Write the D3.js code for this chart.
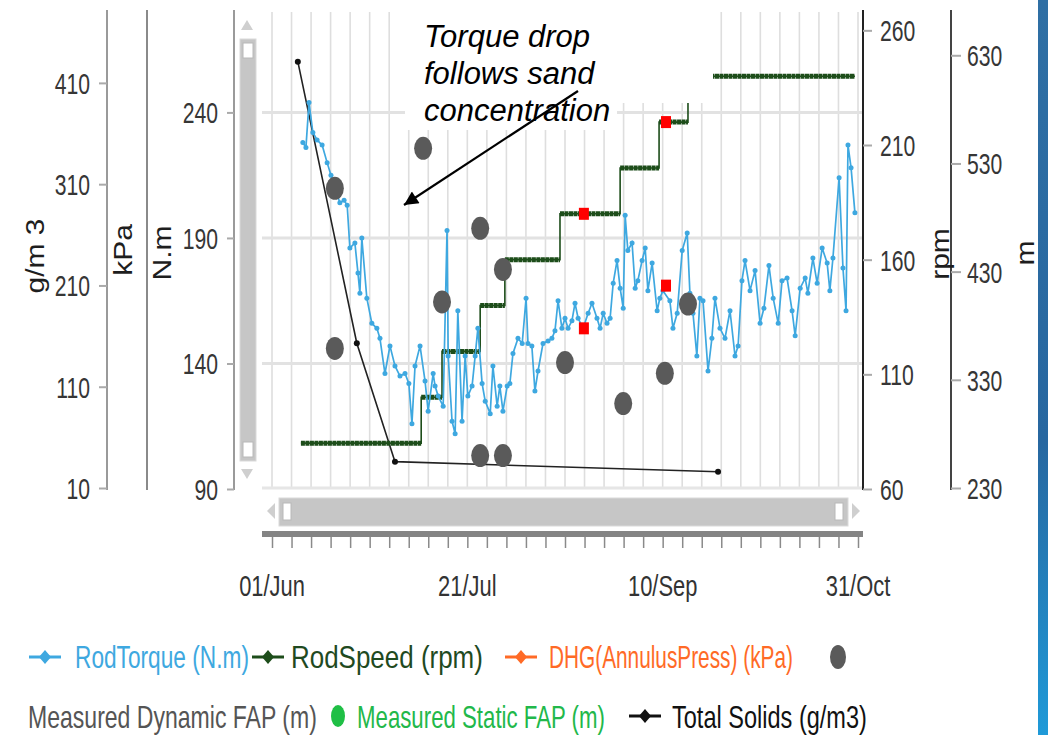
<!DOCTYPE html>
<html>
<head>
<meta charset="utf-8">
<script src="https://cdn.jsdelivr.net/npm/d3@7"></script>
<style>
  body { margin: 0; background: #fff; }
  svg { display: block; }
  text { font-family: "Liberation Sans", Arial, sans-serif; }
</style>
</head>
<body>
<svg id="chart" width="1048" height="735"></svg>
<script>
// ---- data (days counted from 01/Jun) ----
const startDate = new Date(2019, 5, 1);
const endDate = new Date(2019, 9, 31);

const torqueDay = [8.0, 8.8, 9.6, 10.6, 11.7, 13.0, 14.3, 15.3, 16.3, 17.6,
  18.7, 19.5, 20.2, 21.5, 22.3, 22.8, 23.3, 24.6, 25.9, 27.2,
  28.0, 29.3, 30.6, 31.9, 33.2, 34.5, 35.5, 36.3, 37.1, 38.4,
  39.7, 40.5, 41.8, 42.3, 43.1, 44.4, 45.4, 45.7, 46.7, 47.5,
  48.2, 49.3, 50.1, 50.8, 51.9, 52.7, 53.4, 54.5, 55.3, 56.6,
  57.3, 58.4, 59.1, 59.9, 61.0, 61.7, 62.5, 63.8, 64.9, 65.9,
  66.4, 67.4, 68.2, 69.0, 70.3, 71.6, 72.6, 73.4, 74.2, 75.2,
  76.0, 76.8, 77.8, 78.6, 79.4, 80.7, 82.0, 83.0, 84.3, 85.1,
  85.9, 86.9, 87.7, 88.5, 89.5, 90.3, 91.1, 91.6, 92.3, 93.4,
  94.2, 94.9, 96.0, 96.8, 97.5, 98.6, 99.9, 100.6, 101.4, 103.2,
  104.0, 105.1, 106.4, 107.7, 108.4, 109.2, 110.2, 111.0, 111.8, 113.1,
  114.1, 114.9, 116.2, 117.5, 118.8, 120.1, 120.9, 121.9, 122.7, 124.0,
  125.3, 126.6, 127.6, 128.9, 130.0, 131.3, 132.3, 133.6, 134.9, 135.7,
  137.0, 138.3, 139.0, 140.3, 141.4, 142.7, 144.0, 144.7, 145.5, 147.1,
  148.1, 148.9, 149.4, 150.2, 151.2];
const torqueNm = [228, 226, 244, 232, 229, 227, 220, 215, 210, 204,
  205, 203, 186, 188, 176, 168, 190, 166, 156, 154,
  150, 136, 147, 139, 135, 136, 132, 116, 139, 147,
  133, 121, 136, 131, 127, 123, 193, 143, 117, 112,
  161, 117, 143, 127, 131, 143, 154, 132, 125, 120,
  139, 123, 131, 121, 131, 132, 144, 150, 148, 166,
  148, 147, 129, 137, 148, 149, 150, 153, 165, 154,
  158, 154, 157, 164, 158, 154, 160, 164, 158, 154,
  160, 156, 158, 172, 181, 170, 162, 199, 185, 188,
  170, 173, 181, 186, 169, 180, 161, 166, 169, 165,
  154, 160, 185, 192, 168, 160, 143, 166, 165, 137,
  150, 166, 154, 150, 161, 143, 147, 173, 181, 169,
  177, 156, 162, 179, 166, 156, 173, 174, 161, 151,
  170, 174, 168, 182, 172, 186, 180, 169, 182, 214,
  178, 161, 227, 218, 200];

const speedStartDay = [7.5, 38.7, 44.1, 54.0, 60.4, 74.7, 90.3, 100.4, 107.9];
const speedRpm = [80, 100, 120, 140, 160, 180, 200, 220, 240];
const speedLastDay = 151.2;

const dynFapDay = [16.3, 16.3, 39.2, 44.1, 54.0, 54.0, 59.9, 59.9, 76.0, 91.1, 101.9, 107.9];
const dynFapM = [507, 359, 544, 402, 470, 260, 432, 260, 346, 308, 336, 400];

const solidsDay = [6.7, 22.0, 31.9, 115.7];
const solidsGm3 = [431, 153, 36, 26];

const flagRpmDay = [80.9, 102.2];
const flagRpm = [180, 220];
const flagTorqueDay = [80.9, 102.2];
const flagTorque = [154, 171];

const gmTicks = [10, 110, 210, 310, 410];
const nmTicks = [90, 140, 190, 240];
const rpmTicks = [60, 110, 160, 210, 260];
const mTicks = [230, 330, 430, 530, 630];

const legendRow1 = ["RodTorque (N.m)", "RodSpeed (rpm)", "DHG(AnnulusPress) (kPa)"];
const legendRow2 = ["Measured Dynamic FAP (m)", "Measured Static FAP (m)", "Total Solids (g/m3)"];
const noteLines = ["Torque drop", "follows sand", "concentration"];

// ---- setup ----
const svg = d3.select("#chart");
const defs = svg.append("defs");
const plotTop = 12, plotBottom = 488, plotL = 262, plotR = 862;
const SX = 0.73; // horizontal squeeze of the original screenshot text

const dayToDate = d => new Date(startDate.getTime() + d * 864e5);
const x = d3.scaleTime().domain([startDate, endDate]).range([272, 858]);
const yNm = d3.scaleLinear().domain([90, 280]).range([489, plotTop]);
const yGm = d3.scaleLinear().domain([10, 480]).range([488, plotTop]);
const yRpm = d3.scaleLinear().domain([60, 268]).range([489, plotTop]);
const yM = d3.scaleLinear().domain([230, 670]).range([488, plotTop]);

const nDays = (endDate - startDate) / 864e5;
const xTicks = d3.range(31).map(i => dayToDate(i * nDays / 30));
const fmt = d3.timeFormat("%d/%b");

// ---- grid ----
const grid = svg.append("g");
grid.selectAll("line.v").data(xTicks).join("line").attr("class", "v")
  .attr("x1", d => x(d)).attr("x2", d => x(d))
  .attr("y1", plotTop).attr("y2", plotBottom)
  .attr("stroke", "#dedede").attr("stroke-width", 1.6);
grid.selectAll("line.h").data(nmTicks.slice(1)).join("line").attr("class", "h")
  .attr("x1", plotL).attr("x2", plotR)
  .attr("y1", d => yNm(d)).attr("y2", d => yNm(d))
  .attr("stroke", "#e2e2e2").attr("stroke-width", 3);
grid.append("line").attr("x1", plotL).attr("x2", plotR)
  .attr("y1", plotBottom).attr("y2", plotBottom)
  .attr("stroke", "#e6e6e6").attr("stroke-width", 3);

// ---- scrollbars ----
const sb = svg.append("g");
sb.append("path").attr("d", "M247,20 L241,30 L253,30 Z").attr("fill", "#cfcfcf");
sb.append("path").attr("d", "M241,469 L253,469 L247,479 Z").attr("fill", "#cfcfcf");
sb.append("rect").attr("x", 240).attr("y", 39).attr("width", 16).attr("height", 422)
  .attr("fill", "#c6c6c6").attr("stroke", "#dadada");
sb.append("rect").attr("x", 243).attr("y", 43).attr("width", 10).attr("height", 15)
  .attr("fill", "#fff").attr("stroke", "#b8b8b8");
sb.append("rect").attr("x", 243).attr("y", 442).attr("width", 10).attr("height", 15)
  .attr("fill", "#fff").attr("stroke", "#b8b8b8");

sb.append("path").attr("d", "M267,511 L275,503 L275,519 Z").attr("fill", "#cfcfcf");
sb.append("path").attr("d", "M860,511 L852,503 L852,519 Z").attr("fill", "#cfcfcf");
sb.append("rect").attr("x", 279).attr("y", 498).attr("width", 569).attr("height", 28)
  .attr("fill", "#c6c6c6").attr("stroke", "#dadada");
sb.append("rect").attr("x", 283).attr("y", 503).attr("width", 8).attr("height", 17)
  .attr("fill", "#fff").attr("stroke", "#b8b8b8");
sb.append("rect").attr("x", 835).attr("y", 503).attr("width", 8).attr("height", 17)
  .attr("fill", "#fff").attr("stroke", "#b8b8b8");

// ---- x axis ----
svg.append("rect").attr("x", 262).attr("y", 531).attr("width", 601).attr("height", 6)
  .attr("fill", "#848484");
const xAxis = svg.append("g").attr("transform", "translate(0,537)")
  .call(d3.axisBottom(x).tickValues(xTicks).tickSize(11).tickSizeOuter(0).tickFormat(""));
xAxis.select(".domain").remove();
xAxis.selectAll(".tick line").attr("stroke", "#8a8a8a").attr("stroke-width", 1.5);
svg.selectAll("text.xl").data([0, 10, 20, 30]).join("text")
  .attr("class", "xl")
  .attr("transform", i => `translate(${x(xTicks[i])},596) scale(${SX},1)`)
  .attr("text-anchor", "middle").attr("fill", "#333").style("font-size", "30px")
  .text(i => fmt(xTicks[i]));

// ---- y axes ----
function yAxis(gen, xPos, labelDx, anchor, lineColor) {
  svg.append("line").attr("x1", xPos).attr("x2", xPos).attr("y1", 10).attr("y2", 490)
    .attr("stroke", lineColor).attr("stroke-width", 2);
  const g = svg.append("g").attr("transform", `translate(${xPos},0)`).call(gen);
  g.attr("font-size", null).attr("font-family", null);
  g.select(".domain").remove();
  g.selectAll(".tick line").attr("stroke", "#aaa").attr("stroke-width", 2);
  g.selectAll(".tick text")
    .attr("x", 0).attr("dy", "0.36em")
    .attr("text-anchor", anchor)
    .attr("transform", `translate(${labelDx},0) scale(${SX},1)`)
    .attr("fill", "#363636").style("font-size", "29px");
}
yAxis(d3.axisLeft(yGm).tickValues(gmTicks).tickSize(8).tickSizeOuter(0), 107, -17, "end", "#9a9a9a");
svg.append("line").attr("x1", 147).attr("x2", 147).attr("y1", 10).attr("y2", 490)
  .attr("stroke", "#8a8a8a").attr("stroke-width", 2);
yAxis(d3.axisLeft(yNm).tickValues(nmTicks).tickSize(7).tickSizeOuter(0), 234, -16, "end", "#9a9a9a");
yAxis(d3.axisRight(yRpm).tickValues(rpmTicks).tickSize(9).tickSizeOuter(0), 863, 17, "start", "#222");
yAxis(d3.axisRight(yM).tickValues(mTicks).tickSize(10).tickSizeOuter(0), 951, 16, "start", "#444");

const titles = [["g/m 3", 44, 256], ["kPa", 132, 250], ["N.m", 171, 253], ["rpm", 949, 254], ["m", 1034, 253]];
svg.selectAll("text.yt").data(titles).join("text")
  .attr("class", "yt")
  .attr("transform", d => `translate(${d[1]},${d[2]}) scale(0.85,1) rotate(-90)`)
  .attr("text-anchor", "middle").attr("fill", "#1e1e1e").style("font-size", "30px")
  .text(d => d[0]);

// ---- Total Solids ----
const solids = solidsDay.map((d, i) => [x(dayToDate(d)), yGm(solidsGm3[i])]);
svg.append("path").attr("d", d3.line()(solids))
  .attr("fill", "none").attr("stroke", "#222").attr("stroke-width", 1.6);
svg.selectAll("circle.sol").data(solids).join("circle").attr("class", "sol")
  .attr("cx", d => d[0]).attr("cy", d => d[1]).attr("r", 3).attr("fill", "#111");

// ---- RodSpeed ----
const green = "#1d4d1a";
const speedPts = speedStartDay.map((d, i) => [x(dayToDate(d)), yRpm(speedRpm[i])]);
speedPts.push([x(dayToDate(speedLastDay)), yRpm(speedRpm[speedRpm.length - 1])]);
svg.append("path").attr("d", d3.line().curve(d3.curveStepAfter)(speedPts))
  .attr("fill", "none").attr("stroke", green).attr("stroke-width", 1.6);
svg.selectAll("line.lvl").data(speedRpm).join("line").attr("class", "lvl")
  .attr("x1", (r, i) => x(dayToDate(speedStartDay[i])))
  .attr("x2", (r, i) => x(dayToDate(i + 1 < speedStartDay.length ? speedStartDay[i + 1] : speedLastDay)))
  .attr("y1", r => yRpm(r)).attr("y2", r => yRpm(r))
  .attr("stroke", green).attr("stroke-width", 5).attr("stroke-dasharray", "4,0.5");

// ---- RodTorque ----
const blue = "#3ea8e0";
const torque = torqueDay.map((d, i) => [x(dayToDate(d)), yNm(torqueNm[i])]);
svg.append("path").attr("d", d3.line()(torque))
  .attr("fill", "none").attr("stroke", blue).attr("stroke-width", 1.7);
svg.selectAll("circle.tq").data(torque).join("circle").attr("class", "tq")
  .attr("cx", d => d[0]).attr("cy", d => d[1]).attr("r", 2.5).attr("fill", blue);

// ---- Measured Dynamic FAP ----
svg.selectAll("ellipse.fap").data(dynFapDay).join("ellipse").attr("class", "fap")
  .attr("cx", d => x(dayToDate(d))).attr("cy", (d, i) => yM(dynFapM[i]))
  .attr("rx", 9).attr("ry", 11.5).attr("fill", "#5a5a5a");

// ---- red flags ----
const flags = flagRpmDay.map((d, i) => [x(dayToDate(d)), yRpm(flagRpm[i])])
  .concat(flagTorqueDay.map((d, i) => [x(dayToDate(d)), yNm(flagTorque[i])]));
svg.selectAll("rect.flag").data(flags).join("rect").attr("class", "flag")
  .attr("x", d => d[0] - 5).attr("y", d => d[1] - 6).attr("width", 10).attr("height", 12)
  .attr("fill", "#f00");

// ---- annotation ----
svg.append("rect").attr("x", 405).attr("y", 0).attr("width", 308).attr("height", 103).attr("fill", "#fff");
svg.append("rect").attr("x", 405).attr("y", 103).attr("width", 212).attr("height", 27).attr("fill", "#fff");
svg.selectAll("text.note").data(noteLines).join("text").attr("class", "note")
  .attr("x", 424).attr("y", (d, i) => 47 + i * 37)
  .attr("fill", "#000").style("font-size", "31px").style("font-style", "italic")
  .text(d => d);
defs.append("marker").attr("id", "ah")
  .attr("viewBox", "0 0 10 10").attr("refX", 10).attr("refY", 5)
  .attr("markerWidth", 18).attr("markerHeight", 14).attr("markerUnits", "userSpaceOnUse")
  .attr("orient", "auto")
  .append("path").attr("d", "M0,0 L10,5 L0,10 Z").attr("fill", "#000");
svg.append("line").attr("x1", 578).attr("y1", 91).attr("x2", 404).attr("y2", 205)
  .attr("stroke", "#000").attr("stroke-width", 2.2).attr("marker-end", "url(#ah)");

// ---- legend ----
const lg = svg.append("g");
function legendText(str, xPos, yPos, color, w) {
  const t = lg.append("text").attr("fill", color).style("font-size", "31px").text(str);
  const k = w / t.node().getComputedTextLength();
  t.attr("transform", `translate(${xPos},${yPos}) scale(${k},1)`);
}
function legendLine(cx, cy, color) {
  lg.append("line").attr("x1", cx - 16).attr("x2", cx + 16).attr("y1", cy).attr("y2", cy)
    .attr("stroke", color).attr("stroke-width", 3);
  lg.append("path").attr("transform", `translate(${cx},${cy})`)
    .attr("d", "M0,-7 L6,0 L0,7 L-6,0 Z").attr("fill", color);
}
legendLine(45, 657, blue);
legendText(legendRow1[0], 75, 668, "#3ea8e0", 174);
legendLine(268, 657, green);
legendText(legendRow1[1], 291, 668, "#1f4a1f", 192);
legendLine(521, 657, "#ff6a26");
legendText(legendRow1[2], 549, 668, "#ff6a26", 244);
lg.append("ellipse").attr("cx", 838).attr("cy", 657).attr("rx", 8).attr("ry", 12).attr("fill", "#5a5a5a");
legendText(legendRow2[0], 28, 728, "#555", 289);
lg.append("ellipse").attr("cx", 338).attr("cy", 716).attr("rx", 7).attr("ry", 11).attr("fill", "#1fbf45");
legendText(legendRow2[1], 357, 728, "#22b84a", 248);
legendLine(645, 716, "#111");
legendText(legendRow2[2], 672, 728, "#111", 195);

// ---- right edge decoration ----
const grad = defs.append("linearGradient").attr("id", "band")
  .attr("x1", 0).attr("y1", 0).attr("x2", 0).attr("y2", 1);
grad.append("stop").attr("offset", "0").attr("stop-color", "#2f6fa4");
grad.append("stop").attr("offset", "0.6").attr("stop-color", "#2767a0");
grad.append("stop").attr("offset", "1").attr("stop-color", "#1f9ad8");
svg.append("rect").attr("x", 1038).attr("y", 0).attr("width", 10).attr("height", 735).attr("fill", "url(#band)");
</script>
</body>
</html>
